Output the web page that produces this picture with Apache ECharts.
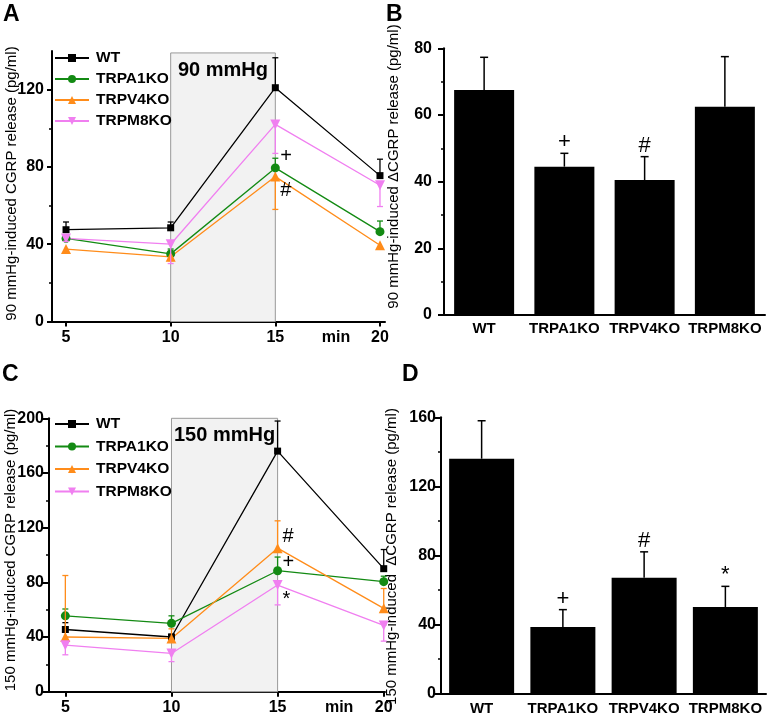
<!DOCTYPE html>
<html lang="en">
<head>
    <meta charset="utf-8" />
    <title>CGRP release</title>
    <script src="https://cdn.jsdelivr.net/npm/echarts@6/dist/echarts.min.js"></script>
    <style>
        html, body { margin: 0; background: #FFFFFF; }
        #chart { width: 770px; height: 726px; }
    </style>
</head>
<body>
<div id="chart"></div>
<script>
// time points (min) and group names
var timePoints = [5, 10, 15, 20];
var groups = ['WT', 'TRPA1KO', 'TRPV4KO', 'TRPM8KO'];

// A: 90 mmHg, CGRP release (pg/ml) with visible error bar parts
var wt90 = [47.5, 48.5, 121, 75.5];
var wt90Up = [4, 3, 15.5, 8.5];
var wt90Down = [0, 0, 0, 0];
var a1_90 = [43, 35, 79.5, 46.5];
var a1_90Up = [0, 2.5, 5, 5.5];
var a1_90Down = [0, 0, 0, 0];
var v4_90 = [37.5, 33.5, 75, 39.5];
var v4_90Up = [0, 0, 0, 0];
var v4_90Down = [1.5, 2, 17, 1];
var m8_90 = [43, 40, 102, 70.5];
var m8_90Up = [0, 0, 0, 0];
var m8_90Down = [1.5, 10, 15, 11];
var sig90Marks = [[15, 85.5], [15, 68]];
var sig90Text = ['+', '#'];

// C: 150 mmHg
var wt150 = [45.5, 40, 176, 90];
var wt150Up = [5, 2, 22, 14];
var wt150Down = [0, 0, 0, 0];
var a1_150 = [55.5, 50, 88.5, 80.5];
var a1_150Up = [5, 5.5, 10, 4];
var a1_150Down = [0, 0, 0, 0];
var v4_150 = [40, 39, 105, 61];
var v4_150Up = [45, 7, 20, 14.5];
var v4_150Down = [0, 0, 0, 0];
var m8_150 = [34, 28, 78, 48.5];
var m8_150Up = [0, 0, 0, 0];
var m8_150Down = [7, 6, 14.5, 11.5];
var sig150Marks = [[15, 113.5], [15, 94.5], [15, 67.5]];
var sig150Text = ['#', '+', '*'];

// B / D: delta CGRP release (pg/ml)
var delta90 = [67.5, 44.5, 40.5, 62.5];
var delta90Err = [9.8, 4, 7, 15];
var delta90Sig = ['', '+', '#', ''];
var delta150 = [136, 38.5, 67, 50];
var delta150Err = [22, 10, 15, 12];
var delta150Sig = ['', '+', '#', '*'];

// axis ticks
var ticks90 = [0, 40, 80, 120];
var minorTicks90 = [20, 60, 100];
var timeLabels = [5, 10, 15, 17.9, 20]; // 17.9 holds the "min" unit label

var FONT = '"Liberation Sans", Arial, sans-serif';

var colors = { WT: '#000000', TRPA1KO: '#138a13', TRPV4KO: '#ff8c1a', TRPM8KO: '#f07ff0' };
var symbols = {
    WT: ['rect', 7],
    TRPA1KO: ['circle', 9],
    TRPV4KO: ['triangle', 10],
    TRPM8KO: ['path://M0,0 L10,0 L5,9 Z', 10]
};

var tickLabel = { color: '#000', fontFamily: FONT, fontWeight: 'bold', fontSize: 16 };
var catLabel = { color: '#000', fontFamily: FONT, fontWeight: 'bold', fontSize: 15 };
var axisLine = { show: true, lineStyle: { color: '#000', width: 2 } };

function lineErrRender(color) {
    return function (params, api) {
        var x = api.value(0), y = api.value(1), up = api.value(2), dn = api.value(3);
        var hi = api.coord([x, y + up]), lo = api.coord([x, y - dn]);
        var st = { stroke: color, lineWidth: 1.3 };
        var ch = [{ type: 'line', shape: { x1: hi[0], y1: hi[1], x2: lo[0], y2: lo[1] }, style: st }];
        if (up > 0) ch.push({ type: 'line', shape: { x1: hi[0] - 3, y1: hi[1], x2: hi[0] + 3, y2: hi[1] }, style: st });
        if (dn > 0) ch.push({ type: 'line', shape: { x1: lo[0] - 3, y1: lo[1], x2: lo[0] + 3, y2: lo[1] }, style: st });
        return { type: 'group', children: ch };
    };
}

function barErrRender(sigs) {
    return function (params, api) {
        var i = api.value(0), v = api.value(1), e = api.value(2);
        var base = api.coord([i, v]), tip = api.coord([i, v + e]);
        var st = { stroke: '#000', lineWidth: 1.5 };
        return {
            type: 'group', children: [
                { type: 'line', shape: { x1: base[0], y1: base[1], x2: tip[0], y2: tip[1] }, style: st },
                { type: 'line', shape: { x1: tip[0] - 4, y1: tip[1], x2: tip[0] + 4, y2: tip[1] }, style: st },
                { type: 'text', x: tip[0], y: tip[1] - 11, style: {
                    text: sigs[params.dataIndex], fill: '#000', fontSize: 22, fontFamily: FONT,
                    align: 'center', verticalAlign: 'middle' } }
            ]
        };
    };
}

function sigRender(texts) {
    return function (params, api) {
        var p = api.coord([api.value(0), api.value(1)]);
        return { type: 'text', x: p[0] + 5, y: p[1], style: {
            text: texts[params.dataIndex], fill: '#000', fontSize: 20, fontFamily: FONT,
            align: 'left', verticalAlign: 'middle' } };
    };
}

function lineSeries(name, vals, xi, yi, extra) {
    var s = {
        type: 'line', name: name, xAxisIndex: xi, yAxisIndex: yi,
        data: timePoints.map(function (t, i) { return [t, vals[i]]; }),
        symbol: symbols[name][0], symbolSize: symbols[name][1], showSymbol: true,
        lineStyle: { color: colors[name], width: 1.3 },
        itemStyle: { color: colors[name] },
        emphasis: { disabled: true }, z: 3
    };
    return Object.assign(s, extra || {});
}

function errSeries(name, vals, up, dn, xi, yi) {
    return {
        type: 'custom', xAxisIndex: xi, yAxisIndex: yi, z: 4,
        data: timePoints.map(function (t, i) { return [t, vals[i], up[i], dn[i]]; }),
        renderItem: lineErrRender(colors[name])
    };
}

function boxArea(top, text) {
    return {
        silent: true,
        itemStyle: { color: '#f2f2f2', borderColor: '#999', borderWidth: 1 },
        label: { show: true, position: 'insideTop', distance: 8, formatter: text,
            color: '#000', fontSize: 20, fontWeight: 'bold', fontFamily: FONT },
        data: [[{ xAxis: 10, yAxis: 0 }, { xAxis: 15, yAxis: top }]]
    };
}

var legendBase = {
    orient: 'vertical', left: 54, padding: 0, itemWidth: 34, itemHeight: 10, itemGap: 5,
    data: groups, selectedMode: false,
    textStyle: { color: '#000', fontFamily: FONT, fontWeight: 'bold', fontSize: 15.5, lineHeight: 15, padding: [0, 0, 0, 2] }
};

function timeAxis(gi, min, max) {
    return {
        type: 'value', gridIndex: gi, min: min, max: max,
        axisLine: axisLine, splitLine: { show: false },
        axisTick: { show: true, length: 5, customValues: timePoints, lineStyle: { color: '#000', width: 2 } },
        axisLabel: Object.assign({ margin: 8, customValues: timeLabels,
            formatter: function (v) { return Math.abs(v - 17.9) < 0.01 ? 'min' : String(v); } }, tickLabel)
    };
}

function catAxis(gi, margin) {
    return {
        type: 'category', gridIndex: gi, data: groups,
        axisLine: axisLine, axisTick: { show: false },
        axisLabel: Object.assign({ margin: margin, interval: 0 }, catLabel)
    };
}

function valAxis(gi, max, interval, margin) {
    return {
        type: 'value', gridIndex: gi, min: 0, max: max, interval: interval,
        axisLine: axisLine, splitLine: { show: false },
        axisTick: { show: true, length: 6, lineStyle: { color: '#000', width: 2 } },
        minorTick: { show: true, splitNumber: 2, length: 3, lineStyle: { color: '#000', width: 1.5 } },
        axisLabel: Object.assign({ margin: margin }, tickLabel)
    };
}

function yName(text, x, y) {
    return { type: 'text', x: x, y: y, rotation: Math.PI / 2, style: {
        text: text, fill: '#000', fontSize: 15, fontFamily: FONT,
        align: 'center', verticalAlign: 'middle' } };
}

function panelLetter(text, x, y) {
    return { type: 'text', x: x, y: y, style: { text: text, fill: '#000', fontSize: 23,
        fontWeight: 'bold', fontFamily: FONT, align: 'left', verticalAlign: 'top' } };
}

var chart = echarts.init(document.getElementById('chart'), null, { renderer: 'canvas' });

chart.setOption({
    animation: false,
    backgroundColor: '#fff',
    grid: [
        { left: 52, top: 51, width: 333, height: 270.5, outerBoundsMode: 'none', containLabel: false },
        { left: 444, top: 48.3, width: 321, height: 266.7, outerBoundsMode: 'none', containLabel: false },
        { left: 49, top: 418.3, width: 336, height: 273.4, outerBoundsMode: 'none', containLabel: false },
        { left: 441, top: 417.3, width: 325, height: 276, outerBoundsMode: 'none', containLabel: false }
    ],
    legend: [
        Object.assign({}, legendBase, { top: 50 }),
        Object.assign({}, legendBase, { top: 416, itemGap: 6.5 })
    ],
    xAxis: [
        timeAxis(0, 4.33, 20.24),
        catAxis(1, 6),
        timeAxis(2, 4.23, 20.06),
        catAxis(3, 8)
    ],
    yAxis: [
        {
            type: 'value', gridIndex: 0, min: 0, max: 140, position: 'left',
            axisLine: axisLine, splitLine: { show: false },
            axisTick: { show: true, length: 5, customValues: ticks90, lineStyle: { color: '#000', width: 2 } },
            axisLabel: Object.assign({ margin: 8, customValues: ticks90 }, tickLabel)
        },
        {
            type: 'value', gridIndex: 0, min: 0, max: 140, position: 'left', offset: 0,
            axisLine: { show: false }, splitLine: { show: false }, axisLabel: { show: false },
            axisTick: { show: true, length: 3, customValues: minorTicks90, lineStyle: { color: '#000', width: 1.5 } }
        },
        valAxis(1, 80, 20, 12),
        valAxis(2, 200, 40, 5),
        valAxis(3, 160, 40, 5)
    ],
    graphic: [
        panelLetter('A', 3, 3),
        panelLetter('B', 386, 3),
        panelLetter('C', 2, 363),
        panelLetter('D', 402, 363),
        yName('90 mmHg-induced CGRP release (pg/ml)', 12, 183.5),
        yName('90 mmHg-induced \u0394CGRP release (pg/ml)', 394, 166.5),
        yName('150 mmHg-induced CGRP release (pg/ml)', 11, 550),
        yName('150 mmHg-induced  \u0394CGRP release (pg/ml)', 392, 556.5)
    ],
    series: [
        // A
        lineSeries('WT', wt90, 0, 0, { markArea: boxArea(139, '90 mmHg') }),
        lineSeries('TRPA1KO', a1_90, 0, 0),
        lineSeries('TRPV4KO', v4_90, 0, 0),
        lineSeries('TRPM8KO', m8_90, 0, 0),
        errSeries('WT', wt90, wt90Up, wt90Down, 0, 0),
        errSeries('TRPA1KO', a1_90, a1_90Up, a1_90Down, 0, 0),
        errSeries('TRPV4KO', v4_90, v4_90Up, v4_90Down, 0, 0),
        errSeries('TRPM8KO', m8_90, m8_90Up, m8_90Down, 0, 0),
        { type: 'custom', xAxisIndex: 0, yAxisIndex: 0, z: 5, data: sig90Marks, renderItem: sigRender(sig90Text) },
        // B
        {
            type: 'bar', xAxisIndex: 1, yAxisIndex: 2, data: delta90, barWidth: 60,
            itemStyle: { color: '#000' }, emphasis: { disabled: true }
        },
        {
            type: 'custom', xAxisIndex: 1, yAxisIndex: 2, z: 4,
            data: groups.map(function (g, i) { return [i, delta90[i], delta90Err[i]]; }),
            renderItem: barErrRender(delta90Sig)
        },
        // C
        lineSeries('WT', wt150, 2, 3, { markArea: boxArea(200, '150 mmHg') }),
        lineSeries('TRPA1KO', a1_150, 2, 3),
        lineSeries('TRPV4KO', v4_150, 2, 3),
        lineSeries('TRPM8KO', m8_150, 2, 3),
        errSeries('WT', wt150, wt150Up, wt150Down, 2, 3),
        errSeries('TRPA1KO', a1_150, a1_150Up, a1_150Down, 2, 3),
        errSeries('TRPV4KO', v4_150, v4_150Up, v4_150Down, 2, 3),
        errSeries('TRPM8KO', m8_150, m8_150Up, m8_150Down, 2, 3),
        { type: 'custom', xAxisIndex: 2, yAxisIndex: 3, z: 5, data: sig150Marks, renderItem: sigRender(sig150Text) },
        // D
        {
            type: 'bar', xAxisIndex: 3, yAxisIndex: 4, data: delta150, barWidth: 65,
            itemStyle: { color: '#000' }, emphasis: { disabled: true }
        },
        {
            type: 'custom', xAxisIndex: 3, yAxisIndex: 4, z: 4,
            data: groups.map(function (g, i) { return [i, delta150[i], delta150Err[i]]; }),
            renderItem: barErrRender(delta150Sig)
        }
    ]
});
</script>
</body>
</html>
